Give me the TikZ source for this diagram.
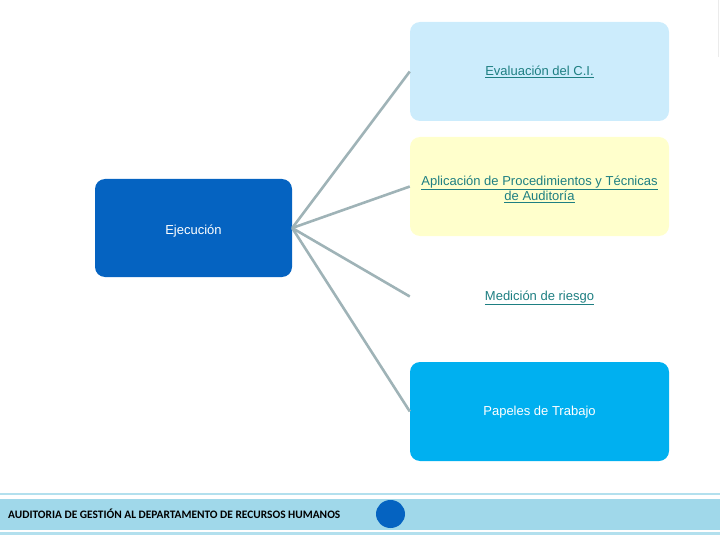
\documentclass[tikz,border=0pt]{standalone}
\usepackage{fontspec}
\setmainfont{Liberation Sans}
\newfontfamily\footfont{Carlito}
\definecolor{EJBlue}{HTML}{0563C1}
\definecolor{EVBlue}{HTML}{CCECFC}
\definecolor{APYellow}{HTML}{FFFFCC}
\definecolor{PTCyan}{HTML}{00B0F0}
\definecolor{LinkTeal}{HTML}{1E7F82}
\definecolor{BranchGray}{HTML}{9FB3B7}
\definecolor{BandBlue}{HTML}{A0D8EA}
\definecolor{BandLine}{HTML}{B3E0EE}
\usetikzlibrary{positioning}

\begin{document}
\begin{tikzpicture}[x=1pt, y=-1pt, font=\fontsize{13}{14}\selectfont,
    leaf/.style={rounded corners=10pt, minimum width=259pt, minimum height=99pt, align=center, inner sep=1pt, text height=10pt, text depth=2pt},
    linktext/.style={text=LinkTeal},
    branch/.style={draw=BranchGray, line width=2.6pt}]
    \useasboundingbox (0,0) rectangle (720,540);
    % main topic
    \node[fill=EJBlue, text=white, rounded corners=10pt, minimum width=197pt, minimum height=98pt, text height=14pt, text depth=2pt] (ejec) at (193.5,228) {Ejecuci\'on};
    % sub topics
    \node[leaf, fill=EVBlue, linktext] (eval) at (539.5,71.5) {\underline{Evaluaci\'on del C.I.}};
    \node[leaf, fill=APYellow, linktext, text height=31pt, text depth=3pt] (apli) at (539.5,186.5) {\underline{Aplicaci\'on de Procedimientos y T\'ecnicas}\\\underline{de Auditor\'ia}};
    \node[leaf, fill=white, linktext] (medi) at (539.5,296.5) {\underline{Medici\'on de riesgo}};
    \node[leaf, fill=PTCyan, text=white] (pape) at (539.5,411.5) {Papeles de Trabajo};
    \foreach \leafname in {eval,apli,medi,pape}
        \draw[branch] (ejec.east) -- (\leafname.west);
    % footer band
    \draw[BandLine, line width=2pt] (0,494) -- (720,494);
    \fill[BandBlue] (0,499) rectangle (720,530);
    \draw[BandLine, line width=2.5pt] (0,533.5) -- (720,533.5);
    \node[anchor=west, font=\footfont\bfseries\fontsize{11.4}{13}\selectfont, inner sep=0pt] (foot) at (8,513.5) {AUDITORIA DE GESTI\'ON AL DEPARTAMENTO DE RECURSOS HUMANOS};
    \fill[EJBlue] (390.5,514) ellipse (14.5pt and 14pt);
    \draw[black!8, line width=0.8pt] (718.5,0) -- (718.5,57);
  \end{tikzpicture}
\end{document}
